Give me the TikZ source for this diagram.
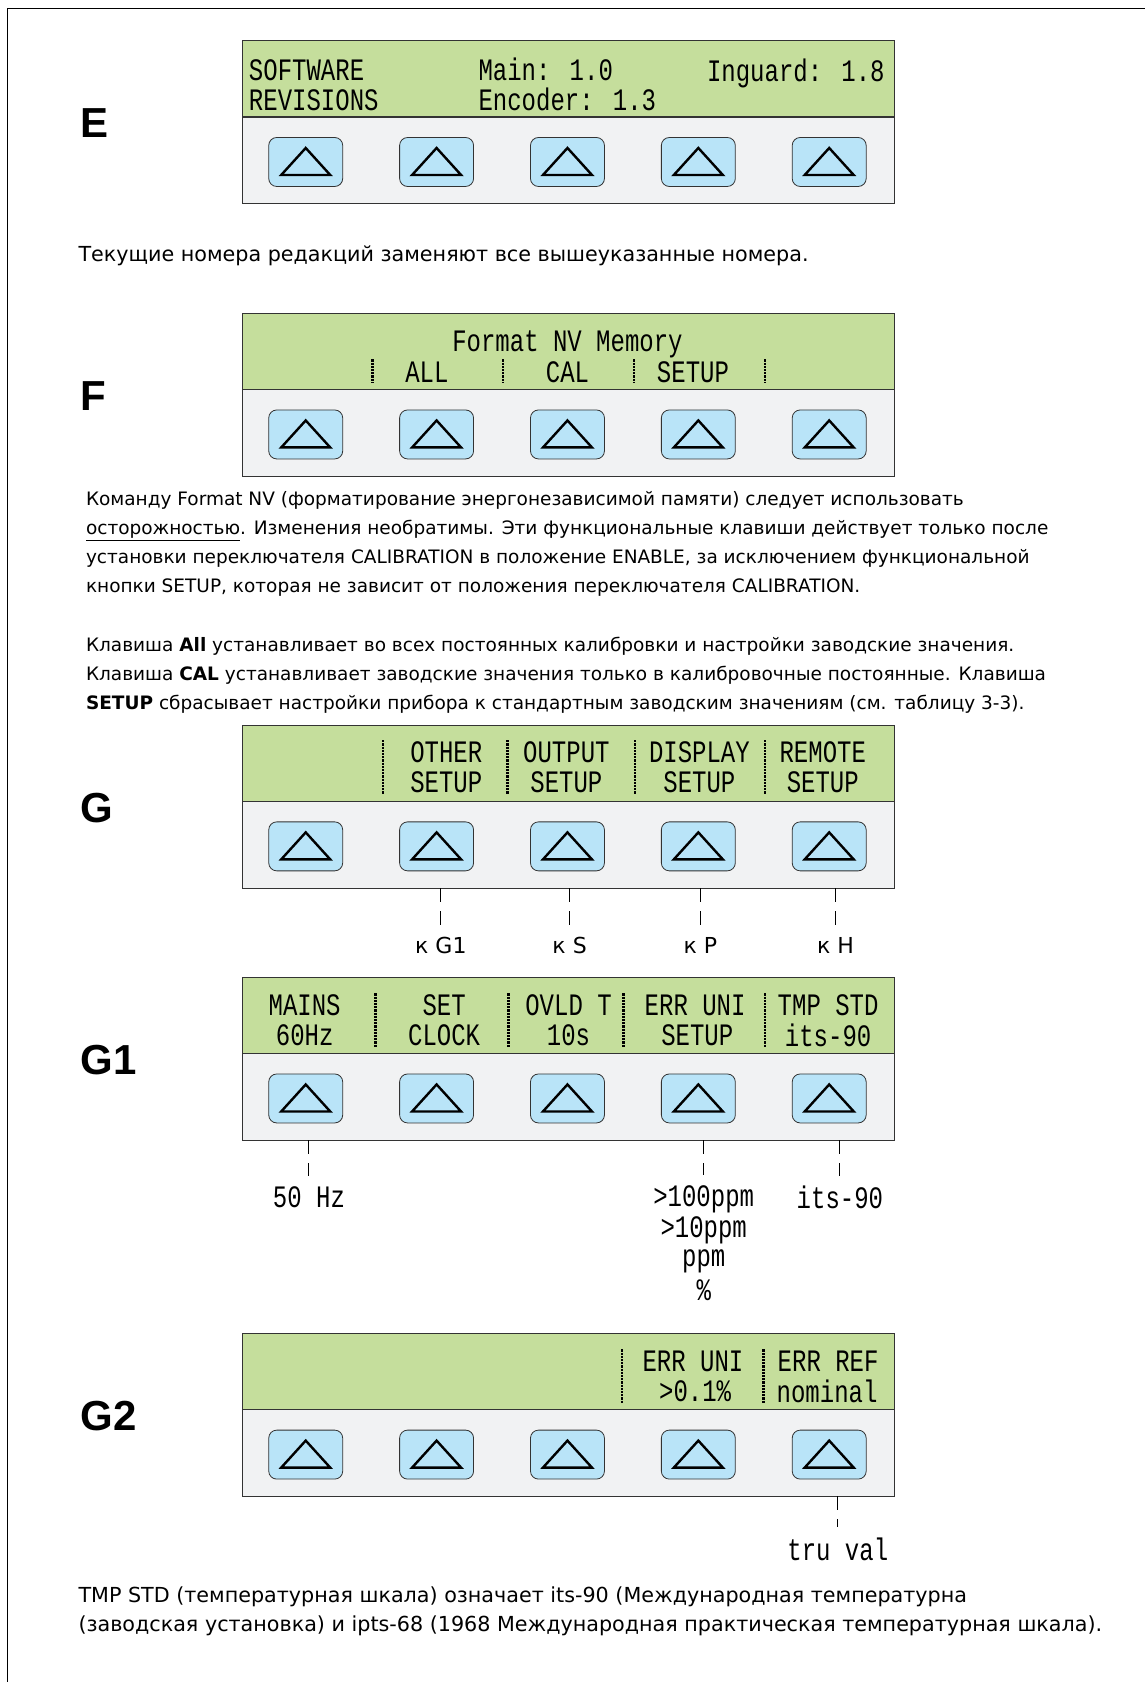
\documentclass[tikz,border=0pt]{standalone}
\usepackage{fontspec}
\setmainfont{DejaVu Sans}
\newfontfamily\lcdfont{Liberation Mono}
\newfontfamily\tagfont{Liberation Sans}
\usetikzlibrary{positioning,calc}
\definecolor{screengreen}{HTML}{C5DE9C}
\definecolor{padgray}{HTML}{F1F2F3}
\definecolor{keyblue}{HTML}{B9E4F8}
\definecolor{rim}{HTML}{333333}
\newcommand{\dm}[1]{\scalebox{1}[1.3]{#1}}

\begin{document}
\begin{tikzpicture}[x=1.0731pt,y=-1.0731pt,
  screen/.style={fill=screengreen,draw=rim,line width=1.2pt},
  keypad/.style={fill=padgray,draw=rim,line width=1.2pt},
  key/.style={draw=rim,fill=keyblue,line width=0.8pt,rounded corners=8pt,
    minimum width=74pt,minimum height=49pt,
    path picture={\draw[sharp corners,line width=2.4pt,line join=miter,black]
      ([shift={(-24.5pt,-13pt)}]path picture bounding box.center)
      -- ++(49pt,0pt) -- ++(-24.5pt,27pt) -- cycle;}},
  tag/.style={anchor=west,inner sep=0pt,font=\tagfont\bfseries\fontsize{42}{42}\selectfont},
  lcd/.style={inner sep=1pt,font=\lcdfont\fontsize{24}{24}\selectfont},
  bar/.style={line width=2.6pt,dash pattern=on 2.2pt off 1pt,draw=black},
  leader/.style={line width=1pt,dash pattern=on 14pt off 9pt,shorten >=9pt},
  para/.style={anchor=north west,inner sep=0pt,align=left,font=\fontsize{18.5}{29}\selectfont},
  bigpara/.style={para,font=\fontsize{20.7}{29}\selectfont},
  target/.style={inner sep=2pt,font=\fontsize{22}{22}\selectfont}]
\useasboundingbox (0,0) rectangle (1067,1568);

% frame
\draw[line width=1.4pt] (7,1568) -- (7,8) -- (1067,8);

% five panels with their soft keys
\foreach \p/\t in {E/38,F/292,G/676,G1/911,G2/1243}{
  \filldraw[screen] (226,\t) rectangle (834,\t+71);
  \filldraw[keypad] (226,\t+71) rectangle (834,\t+152);
  \coordinate (\p-base) at (226,\t+152);
  \foreach \i in {1,...,5}
    \node[key] (\p-k\i) at (163+122*\i,\t+113) {};
  \node[tag] (\p-tag) at (75,\t+77) {\p};
}

% E
\node[lcd,anchor=west] (sw) at (231,65) {\dm{SOFTWARE}};
\node[lcd,anchor=west] (rev) at (231,93) {\dm{REVISIONS}};
\node[lcd,anchor=west] (main) at (445,65) {\dm{Main: 1.0}};
\node[lcd,anchor=west] (enc) at (445,93) {\dm{Encoder: 1.3}};
\node[lcd,anchor=west] (ing) at (658,68) {\dm{Inguard: 1.8}};
\node[bigpara] (note1) at (73,229) {Текущие номера редакций заменяют все вышеуказанные номера.};

% F
\node[lcd] (fmt) at (529,321) {\dm{Format NV Memory}};
\node[lcd] (all) at (398,347) {\dm{ALL}};
\node[lcd] (cal) at (529,347) {\dm{CAL}};
\node[lcd] (setup) at (646,347) {\dm{SETUP}};
\foreach \x in {347,469,591,713} \draw[bar] (\x,335) -- (\x,356);
\node[para] (note2) at (80,458) {Команду Format NV (форматирование энергонезависимой памяти) следует использовать\\
  \underline{осторожностью}. Изменения необратимы. Эти функциональные клавиши действует только после\\
  установки переключателя CALIBRATION в положение ENABLE, за исключением функциональной\\
  кнопки SETUP, которая не зависит от положения переключателя CALIBRATION.};
\node[para] (note3) at (80,594) {Клавиша \textbf{All} устанавливает во всех постоянных калибровки и настройки заводские значения.\\
  Клавиша \textbf{CAL} устанавливает заводские значения только в калибровочные постоянные. Клавиша\\
  \textbf{SETUP} сбрасывает настройки прибора к стандартным заводским значениям (см. таблицу 3-3).};

% G
\node[lcd] (other) at (416,701) {\dm{OTHER}};
\node[lcd] (output) at (528,701) {\dm{OUTPUT}};
\node[lcd] (display) at (652,701) {\dm{DISPLAY}};
\node[lcd] (remote) at (767,701) {\dm{REMOTE}};
\foreach \x in {416,528,652,767} \node[lcd] at (\x,729) {\dm{SETUP}};
\foreach \x in {357,473,592,713} \draw[bar] (\x,690) -- (\x,740);
\node[target] (toG1) at (411,881) {к G1};
\node[target] (toS) at (531,881) {к S};
\node[target] (toP) at (653,881) {к P};
\node[target] (toH) at (779,881) {к H};
\foreach \n in {toG1,toS,toP,toH} \draw[leader] (\n |- G-base) -- (\n);

% G1
\node[lcd] (mains) at (284,937) {\dm{MAINS}};
\node[lcd] (hz) at (284,965) {\dm{60Hz}};
\node[lcd] (set) at (414,937) {\dm{SET}};
\node[lcd] (clock) at (414,965) {\dm{CLOCK}};
\node[lcd] (ovld) at (530,937) {\dm{OVLD T}};
\node[lcd] (tens) at (530,965) {\dm{10s}};
\node[lcd] (errA) at (648,937) {\dm{ERR UNI}};
\node[lcd] (errB) at (650,965) {\dm{SETUP}};
\node[lcd] (tmp) at (772,937) {\dm{TMP STD}};
\node[lcd] (its) at (772,965) {\dm{its-90}};
\foreach \x in {350,474,581,713} \draw[bar] (\x,926) -- (\x,976);
\node[lcd] (fifty) at (288,1116) {\dm{50 Hz}};
\node[lcd] (ppmA) at (656,1118) {\dm{>100ppm}};
\node[lcd] (ppmB) at (656,1147) {\dm{>10ppm}};
\node[lcd] (ppmC) at (656,1176) {\dm{ppm}};
\node[lcd] (pct) at (656,1203) {\dm{\%}};
\node[lcd] (itsB) at (783,1116) {\dm{its-90}};
\foreach \n in {fifty,ppmA,itsB} \draw[leader] (\n |- G1-base) -- (\n);

% G2
\node[lcd] (errC) at (646,1269) {\dm{ERR UNI}};
\node[lcd] (tenth) at (648,1297) {\dm{>0.1\%}};
\node[lcd] (eref) at (772,1269) {\dm{ERR REF}};
\node[lcd] (nom) at (771,1297) {\dm{nominal}};
\foreach \x in {580,712} \draw[bar] (\x,1258) -- (\x,1308);
\node[lcd] (tru) at (781,1444) {\dm{tru val}};
\draw[leader] (tru |- G2-base) -- (tru);
\node[bigpara] (note4) at (73,1479) {TMP STD (температурная шкала) означает its-90 (Международная температурна\\
  (заводская установка) и ipts-68 (1968 Международная практическая температурная шкала).};
\end{tikzpicture}
\end{document}
